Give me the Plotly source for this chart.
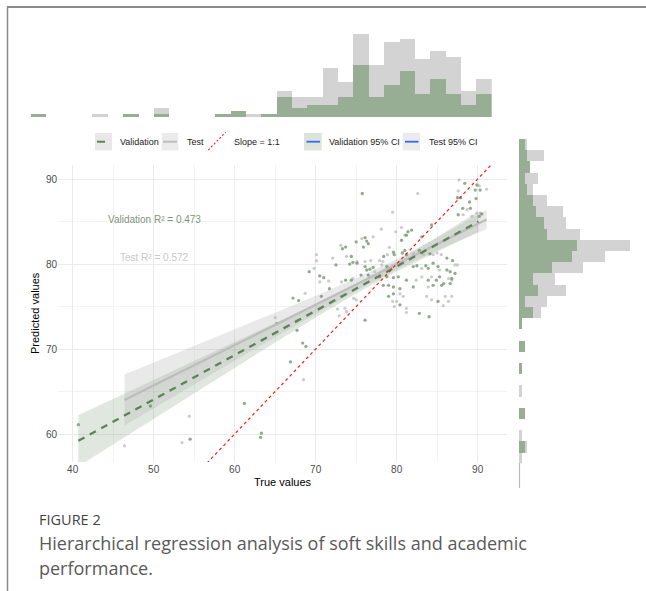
import numpy as np
import plotly.graph_objects as go

W, H = 646, 591
FONT = "Liberation Sans, Arial, sans-serif"

# ---------------- data ----------------
val_x = [40.7, 49.6, 54.5, 61.2, 63.3, 63.2,
         65.2, 66.9, 67.7, 68.4, 68.8, 67.2, 67.9, 70.7, 76.1,
         75.0, 76.1, 76.3, 76.5, 75.9, 73.3, 73.7, 74.4, 72.5, 74.2, 74.6, 75.1, 69.2, 70.5,
         71.0, 71.7, 73.7, 74.4, 75.6, 76.1, 76.3, 76.7, 77.1, 76.5,
         78.4, 79.6, 79.7, 80.7, 81.2, 81.0, 82.8, 84.1, 86.2, 86.9, 78.8, 80.2, 82.05, 82.5,
         83.6, 83.9, 84.5, 85.1, 86.2, 86.6, 87.2, 86.8, 77.9, 78.8, 79.6, 80.2, 81.2, 83.9,
         84.9, 85.3, 85.8, 86.6, 78.35, 79.0, 79.6, 80.4, 82.05, 84.5, 85.55, 79.0, 79.6, 80.4,
         85.1, 82.8, 84.0,
         88.4, 89.9, 90.3, 89.7, 87.5, 87.9, 89.0, 89.8, 88.15, 89.1, 90.2, 87.6, 84.3, 83.1,
         81.85, 81.4, 81.2, 80.6, 75.75, 90.5]
val_y = [61.1, 63.3, 59.4, 63.6, 60.1, 59.6,
         73.0, 68.5, 72.2, 70.7, 70.3, 76.0, 75.7, 76.2, 73.4,
         82.6, 83.1, 82.7, 82.4, 82.0, 81.8, 82.0, 80.9, 79.9, 80.0, 80.2, 80.1, 79.1, 78.6,
         78.4, 77.1, 78.1, 78.1, 78.7, 79.7, 79.3, 79.4, 79.6, 78.7,
         80.9, 81.4, 81.1, 81.3, 81.1, 81.6, 81.6, 81.2, 80.7, 80.4, 79.7, 80.1, 79.7, 79.8,
         79.8, 79.5, 80.1, 79.7, 79.3, 79.1, 78.9, 78.3, 78.5, 78.5, 78.4, 78.5, 78.1, 78.1,
         78.1, 78.5, 77.7, 77.7, 77.5, 77.5, 77.3, 77.1, 77.3, 77.5, 77.5, 76.2, 76.5, 75.2,
         75.6, 74.2, 73.8,
         89.5, 89.3, 88.7, 88.7, 87.8, 87.8, 87.3, 87.7, 86.55, 86.55, 85.6, 85.8, 84.6, 83.2,
         84.0, 83.8, 83.4, 82.8, 88.3, 85.9]

test_x = [46.4, 54.4, 53.5, 65.0, 67.7, 68.5, 72.7, 72.9, 73.6, 73.8, 74.7, 75.0, 79.5, 79.7,
          78.1, 75.7, 77.1, 73.1, 70.1, 70.1, 72.1, 73.8, 75.1, 76.1, 76.8, 77.9, 69.8, 70.5,
          71.6, 73.2, 74.6, 76.9, 77.3, 78.3, 78.85, 68.7,
          79.1, 82.05, 83.3, 84.5, 85.0, 85.5, 87.2, 87.5, 78.15, 80.8, 83.1, 85.3, 86.4, 82.4,
          83.1, 84.3, 86.8, 83.9, 80.4, 80.8, 80.0, 83.7, 84.3, 86.0, 86.8, 86.4, 85.75, 81.2,
          81.2,
          87.7, 90.2, 91.1, 82.6, 79.5, 88.2, 89.3, 87.6, 90.3, 89.9, 80.6, 79.9, 81.0, 88.7]
test_y = [58.6, 62.1, 59.0, 73.7, 73.4, 66.4, 74.7, 73.9, 74.8, 74.4, 75.96, 75.8, 75.6, 75.0,
          84.1, 83.0, 83.2, 82.2, 81.1, 80.4, 80.7, 80.9, 80.3, 80.3, 80.4, 80.4, 79.5, 77.9,
          78.0, 77.9, 78.3, 78.5, 79.1, 80.3, 81.1, 76.55,
          81.96, 81.25, 81.1, 81.1, 81.3, 81.1, 79.9, 79.9, 79.9, 80.3, 79.5, 79.3, 78.3, 78.1,
          78.5, 78.5, 78.1, 77.3, 76.5, 76.2, 75.6, 76.2, 75.8, 76.2, 76.2, 75.6, 75.1, 74.8,
          74.3,
          89.9, 89.2, 88.8, 88.3, 86.1, 85.8, 85.6, 88.6, 86.0, 86.0, 84.3, 83.8, 83.4, 86.4]

val_fit_x = [40.7, 90.1]
val_fit_y = [59.2, 85.0]
test_fit_x = [46.4, 91.1]
test_fit_y = [64.0, 85.25]

val_ci_x = [40.7, 45, 50, 55, 60, 65, 70, 75, 80, 85, 90.1]
val_ci_lo = [56.2, 58.79, 61.80, 64.80, 67.79, 70.77, 73.71, 76.54, 79.12, 81.48, 83.80]
val_ci_hi = [62.2, 64.11, 66.32, 68.54, 70.77, 73.01, 75.29, 77.68, 80.32, 83.18, 86.20]
test_ci_x = [46.4, 50, 55, 60, 65, 70, 75, 80, 85, 91.1]
test_ci_lo = [61.0, 63.02, 65.82, 68.61, 71.40, 74.16, 76.86, 79.37, 81.61, 84.11]
test_ci_hi = [67.0, 68.40, 70.36, 72.31, 74.28, 76.28, 78.34, 80.57, 83.09, 86.39]

slope_x = [30, 100]
slope_y = [30, 100]

# marginal histograms (counts per bin; test stacked on validation)
top_val = [1, 0, 0, 0, 0, 0, 1, 0, 1, 0, 0, 0, 1, 2, 0, 1, 7, 3, 4, 4, 7, 18, 7, 11, 16, 8, 13, 8, 4, 8]
top_test = [0, 0, 0, 0, 1, 0, 0, 0, 2, 0, 0, 0, 0, 0, 1, 0, 2, 4, 3, 13, 5, 11, 11, 15, 11, 12, 10, 13, 5, 5]
TOP_START, TOP_W = 35.0, 1.9
# right histogram, bins from lowest to highest predicted value
right_val = [0, 2, 0, 0, 2, 0, 0, 0, 1, 0, 2, 0, 1, 5, 2, 7, 5, 12, 19, 21, 10, 9, 6, 5, 3, 2, 4, 3, 2]
right_test = [1, 1, 1, 0, 0, 0, 1, 0, 0, 0, 0, 0, 0, 3, 8, 10, 8, 11, 12, 19, 12, 8, 10, 5, 2, 5, 0, 6, 1]
RIGHT_START, RIGHT_W = 55.8, 1.3

x_ticks = [40, 50, 60, 70, 80, 90]
y_ticks = [60, 70, 80, 90]
legend_labels = ["Validation", "Test", "Slope = 1:1", "Validation 95% CI", "Test 95% CI"]
r2_labels = ["Validation R\u00b2 = 0.473", "Test R\u00b2 = 0.572"]

# ---------------- colours ----------------
C_VAL_PT = "rgba(100,135,95,0.7)"
C_TEST_PT = "rgba(190,190,190,0.8)"
C_VAL_LINE = "#5E8259"
C_TEST_LINE = "#BDBDBD"
C_VAL_BAND = "rgba(110,145,105,0.22)"
C_TEST_BAND = "rgba(175,175,175,0.28)"
C_HIST_VAL = "#97AD94"
C_HIST_TEST = "#D3D3D3"


def px(x):
    return x / W


def py(y):
    return 1 - y / H


fig = go.Figure()

# CI bands
fig.add_trace(go.Scatter(x=val_ci_x + val_ci_x[::-1], y=val_ci_hi + val_ci_lo[::-1],
                         fill="toself", fillcolor=C_VAL_BAND, line=dict(width=0),
                         mode="lines", hoverinfo="skip", showlegend=False))
fig.add_trace(go.Scatter(x=test_ci_x + test_ci_x[::-1], y=test_ci_hi + test_ci_lo[::-1],
                         fill="toself", fillcolor=C_TEST_BAND, line=dict(width=0),
                         mode="lines", hoverinfo="skip", showlegend=False))
# points
fig.add_trace(go.Scatter(x=test_x, y=test_y, mode="markers",
                         marker=dict(size=3.2, color=C_TEST_PT), showlegend=False))
fig.add_trace(go.Scatter(x=val_x, y=val_y, mode="markers",
                         marker=dict(size=3.3, color=C_VAL_PT), showlegend=False))
# fit lines
fig.add_trace(go.Scatter(x=test_fit_x, y=test_fit_y, mode="lines",
                         line=dict(color=C_TEST_LINE, width=2.2), showlegend=False))
fig.add_trace(go.Scatter(x=val_fit_x, y=val_fit_y, mode="lines",
                         line=dict(color=C_VAL_LINE, width=2.3, dash="7px,6px"), showlegend=False))
# slope 1:1
fig.add_trace(go.Scatter(x=slope_x, y=slope_y, mode="lines",
                         line=dict(color="#FF1A1A", width=1.2, dash="3px,3px"), showlegend=False))

# top histogram
top_centers = TOP_START + TOP_W * (np.arange(len(top_val)) + 0.5)
fig.add_trace(go.Bar(x=top_centers, y=top_val, width=TOP_W, marker=dict(color=C_HIST_VAL, line=dict(width=0)),
                     xaxis="x2", yaxis="y2", showlegend=False))
fig.add_trace(go.Bar(x=top_centers, y=top_test, width=TOP_W, marker=dict(color=C_HIST_TEST, line=dict(width=0)),
                     xaxis="x2", yaxis="y2", showlegend=False))
# right histogram
right_centers = RIGHT_START + RIGHT_W * (np.arange(len(right_val)) + 0.5)
fig.add_trace(go.Bar(y=right_centers, x=right_val, width=RIGHT_W, orientation="h",
                     marker=dict(color=C_HIST_VAL, line=dict(width=0)),
                     xaxis="x3", yaxis="y3", showlegend=False))
fig.add_trace(go.Bar(y=right_centers, x=right_test, width=RIGHT_W, orientation="h",
                     marker=dict(color=C_HIST_TEST, line=dict(width=0)),
                     xaxis="x3", yaxis="y3", showlegend=False))

grid_major = "#EBEBEB"
grid_minor = "#F3F3F3"

fig.update_layout(
    width=W, height=H, autosize=False,
    margin=dict(l=0, r=0, t=0, b=0),
    paper_bgcolor="white", plot_bgcolor="white",
    barmode="stack", bargap=0,
    font=dict(family=FONT, color="#4D4D4D"),
    xaxis=dict(domain=[px(58), px(507)], range=[38.19, 93.62],
               tickvals=x_ticks, ticktext=[str(v) for v in x_ticks],
               showgrid=True, gridcolor=grid_major, gridwidth=1,
               minor=dict(dtick=5, tick0=35, showgrid=True, gridcolor=grid_minor, gridwidth=0.8),
               zeroline=False, showline=False, ticks="",
               tickfont=dict(size=10, color="#4D4D4D", family=FONT)),
    yaxis=dict(domain=[py(462), py(165)], range=[56.71, 91.65],
               tickvals=y_ticks, ticktext=[str(v) for v in y_ticks],
               showgrid=True, gridcolor=grid_major, gridwidth=1,
               minor=dict(dtick=5, tick0=55, showgrid=True, gridcolor=grid_minor, gridwidth=0.8),
               zeroline=False, showline=False, ticks="",
               tickfont=dict(size=10, color="#4D4D4D", family=FONT)),
    xaxis2=dict(domain=[px(31), px(491.7)], range=[TOP_START, TOP_START + TOP_W * len(top_val)],
                visible=False, anchor="y2"),
    yaxis2=dict(domain=[py(117), py(25.3)], range=[0, 32], visible=False, anchor="x2"),
    xaxis3=dict(domain=[px(519), px(640)], range=[0, 43.7], visible=False, anchor="y3"),
    yaxis3=dict(domain=[py(463.3), py(138.5)],
                range=[RIGHT_START, RIGHT_START + RIGHT_W * len(right_val)],
                visible=False, anchor="x3"),
)

ann = []
# axis titles
ann.append(dict(text="True values", x=px(282.5), y=py(482), xref="paper", yref="paper",
                xanchor="center", yanchor="middle",
                showarrow=False, font=dict(size=11, color="#000000", family=FONT)))
ann.append(dict(text="Predicted values", x=px(35), y=py(313), xref="paper", yref="paper",
                xanchor="center", yanchor="middle",
                showarrow=False, textangle=-90, font=dict(size=11, color="#000000", family=FONT)))
# R2 labels
ann.append(dict(text=r2_labels[0], x=50.06, y=85.26, xref="x", yref="y", showarrow=False,
                xanchor="center", yanchor="middle",
                font=dict(size=10, color="#7C9878", family=FONT)))
ann.append(dict(text=r2_labels[1], x=50.06, y=80.74, xref="x", yref="y", showarrow=False,
                xanchor="center", yanchor="middle",
                font=dict(size=10, color="#C8C8C8", family=FONT)))

shapes = []
# custom legend
LEG_Y = 141.7
key_boxes = [(95, 112, "#E8E8E8"), (161.7, 178.3, "#EBEBEB"), None, (304, 321.7, "#DDE4DB"), (402.7, 420, "#EBEBEB")]
text_x = [117.7, 185, 231.7, 327.3, 426.7]
for kb in key_boxes:
    if kb is not None:
        shapes.append(dict(type="rect", xref="paper", yref="paper", x0=px(kb[0]), x1=px(kb[1]),
                           y0=py(150.5), y1=py(133), fillcolor=kb[2], line=dict(width=0), layer="above"))
shapes.append(dict(type="line", xref="paper", yref="paper", x0=px(97), x1=px(105), y0=py(LEG_Y), y1=py(LEG_Y),
                   line=dict(color=C_VAL_LINE, width=2)))
shapes.append(dict(type="line", xref="paper", yref="paper", x0=px(163), x1=px(177), y0=py(LEG_Y), y1=py(LEG_Y),
                   line=dict(color=C_TEST_LINE, width=2)))
shapes.append(dict(type="line", xref="paper", yref="paper", x0=px(208.3), x1=px(225.7), y0=py(150), y1=py(132.3),
                   line=dict(color="#FF1A1A", width=1.1, dash="2px,2px")))
shapes.append(dict(type="line", xref="paper", yref="paper", x0=px(306.5), x1=px(320), y0=py(LEG_Y), y1=py(LEG_Y),
                   line=dict(color="#3366FF", width=1.8)))
shapes.append(dict(type="line", xref="paper", yref="paper", x0=px(405), x1=px(418.5), y0=py(LEG_Y), y1=py(LEG_Y),
                   line=dict(color="#3366FF", width=1.8)))
for lab, tx in zip(legend_labels, text_x):
    ann.append(dict(text=lab, x=px(tx), y=py(LEG_Y), xref="paper", yref="paper", xanchor="left",
                    yanchor="middle", showarrow=False, font=dict(size=9, color="#1A1A1A", family=FONT)))

# frame lines
shapes.append(dict(type="line", xref="paper", yref="paper", x0=px(7), x1=1, y0=py(7), y1=py(7),
                   line=dict(color="#8A8A8A", width=2)))
shapes.append(dict(type="line", xref="paper", yref="paper", x0=px(7.5), x1=px(7.5), y0=py(7), y1=0,
                   line=dict(color="#8A8A8A", width=1.5)))
shapes.append(dict(type="line", xref="paper", yref="paper", x0=px(519.5), x1=px(519.5), y0=py(463), y1=py(488),
                   line=dict(color="#BBBBBB", width=1.2)))

# caption
CAP_FONT = "Open Sans, Noto Sans, sans-serif"
ann.append(dict(text="FIGURE 2", x=px(37), y=py(519), xref="paper", yref="paper", xanchor="left",
                yanchor="middle", showarrow=False, font=dict(size=14.5, color="#444444", family=CAP_FONT)))
ann.append(dict(text="Hierarchical regression analysis of soft skills and academic", x=px(37), y=py(543),
                xref="paper", yref="paper", xanchor="left", yanchor="middle", showarrow=False,
                font=dict(size=18, color="#5A5A5A", family=CAP_FONT)))
ann.append(dict(text="performance.", x=px(37), y=py(567.5), xref="paper", yref="paper", xanchor="left",
                yanchor="middle", showarrow=False, font=dict(size=18, color="#5A5A5A", family=CAP_FONT)))

fig.update_layout(annotations=ann, shapes=shapes)
fig.write_html("out.html", config={"displayModeBar": False},
               post_script="document.body.style.margin='0';document.body.style.overflow='hidden';")
